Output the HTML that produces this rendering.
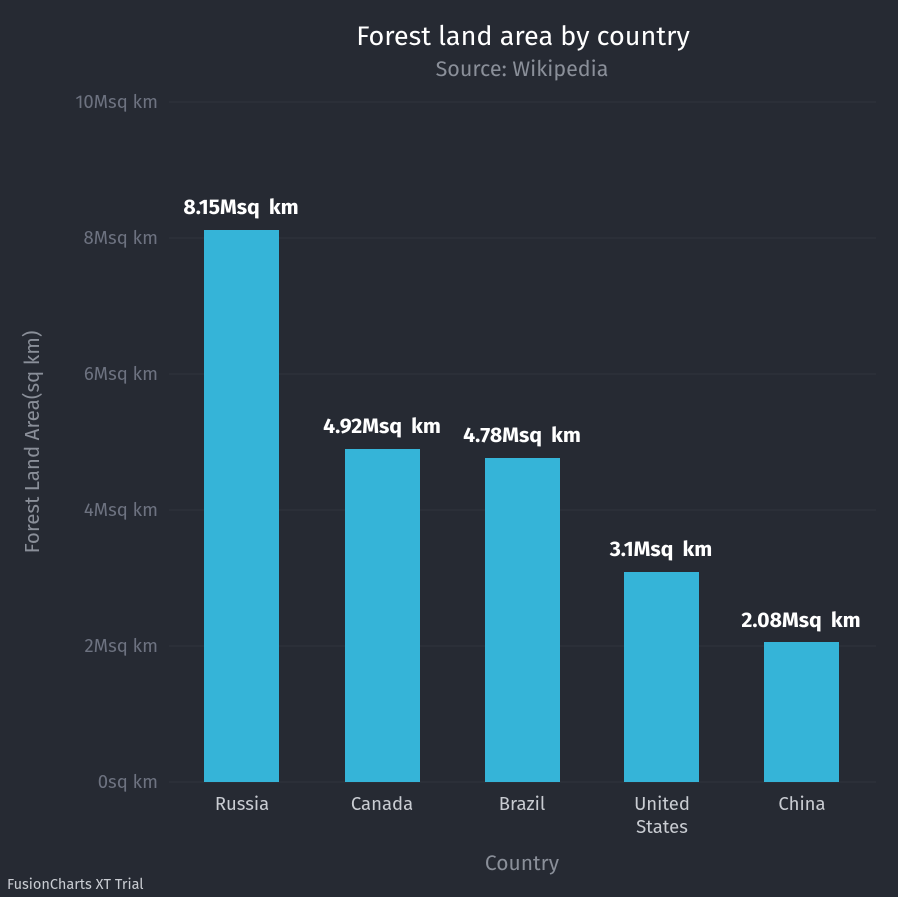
<!DOCTYPE html>
<html><head><meta charset="utf-8"><style>
body{margin:0;background:#262a33;}
svg{display:block;font-family:"Fira Sans","Liberation Sans",sans-serif;}
</style></head><body>
<svg width="898" height="897" viewBox="0 0 898 897">
<rect width="898" height="897" fill="#262a33"/>
<text x="523" y="45" fill="#ffffff" font-size="27" text-anchor="middle">Forest land area by country</text>
<text x="522" y="76" fill="#8a8f99" font-size="21.5" text-anchor="middle">Source: Wikipedia</text>
<g stroke="#30343d" stroke-width="1">
<line x1="169" y1="102" x2="876" y2="102"/>
<line x1="169" y1="238" x2="876" y2="238"/>
<line x1="169" y1="374" x2="876" y2="374"/>
<line x1="169" y1="510" x2="876" y2="510"/>
<line x1="169" y1="646" x2="876" y2="646"/>
<line x1="169" y1="782" x2="876" y2="782"/>
</g>
<g fill="#6d7280" font-size="18.5" text-anchor="end">
<text x="158" y="108">10Msq km</text>
<text x="158" y="244">8Msq km</text>
<text x="158" y="380">6Msq km</text>
<text x="158" y="516">4Msq km</text>
<text x="158" y="652">2Msq km</text>
<text x="158" y="788">0sq km</text>
</g>
<text transform="translate(39,442) rotate(-90)" fill="#8a8f99" font-size="20.5" text-anchor="middle">Forest Land Area(sq km)</text>
<g fill="#35b4d8">
<rect x="204" y="230" width="75" height="552"/>
<rect x="345" y="449" width="75" height="333"/>
<rect x="485" y="458" width="75" height="324"/>
<rect x="624" y="572" width="75" height="210"/>
<rect x="764" y="642" width="75" height="140"/>
</g>
<g fill="#ffffff" font-size="21.3" font-weight="bold" text-anchor="middle" word-spacing="4">
<text x="241" y="214">8.15Msq km</text>
<text x="382" y="433">4.92Msq km</text>
<text x="522" y="442">4.78Msq km</text>
<text x="661" y="556">3.1Msq km</text>
<text x="801" y="627">2.08Msq km</text>
</g>
<g fill="#c9ccd2" font-size="18.5" text-anchor="middle">
<text x="242" y="810">Russia</text>
<text x="382" y="810">Canada</text>
<text x="522" y="810">Brazil</text>
<text x="662" y="810">United</text>
<text x="662" y="833">States</text>
<text x="802" y="810">China</text>
</g>
<text x="522" y="870" fill="#8a8f99" font-size="21" text-anchor="middle">Country</text>
<text x="7" y="889" fill="#c9ccd2" font-size="14.5">FusionCharts XT Trial</text>
</svg>
</body></html>
